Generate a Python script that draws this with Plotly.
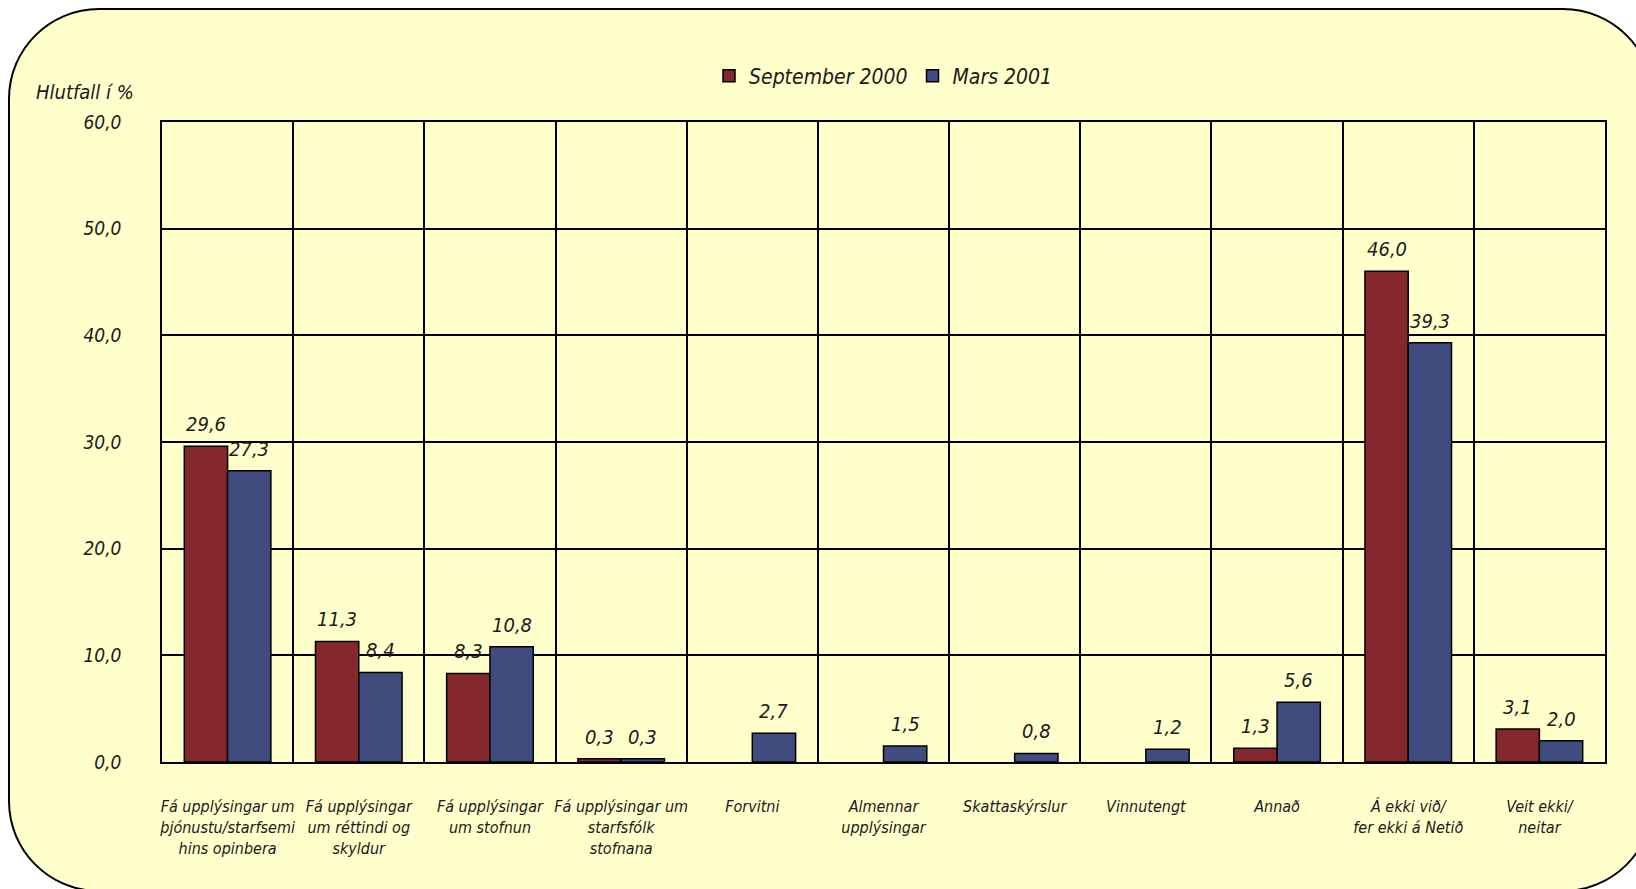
import plotly.graph_objects as go

categories = [
    "Fá upplýsingar um<br>þjónustu/starfsemi<br>hins opinbera",
    "Fá upplýsingar<br>um réttindi og<br>skyldur",
    "Fá upplýsingar<br>um stofnun",
    "Fá upplýsingar um<br>starfsfólk<br>stofnana",
    "Forvitni",
    "Almennar<br>upplýsingar",
    "Skattaskýrslur",
    "Vinnutengt",
    "Annað",
    "Á ekki við/<br>fer ekki á Netið",
    "Veit ekki/<br>neitar",
]
sept_2000 = [29.6, 11.3, 8.3, 0.3, None, None, None, None, 1.3, 46.0, 3.1]
mars_2001 = [27.3, 8.4, 10.8, 0.3, 2.7, 1.5, 0.8, 1.2, 5.6, 39.3, 2.0]
y_ticks = [0, 10, 20, 30, 40, 50, 60]

W, H = 1636, 889
ML, MR, MT, MB = 162, 31, 122, 127
PW, PH = W - ML - MR, H - MT - MB
BARGAP = 0.34

FONT = "DejaVu Sans Condensed, Liberation Sans, sans-serif"
BG = "#FFFFCC"
TXT = "#1a1a1a"


def px(x):
    return (x - ML) / PW


def py(y):
    return 1 - (y - MT) / PH


def fmt(v):
    return f"{v:.1f}".replace(".", ",")


fig = go.Figure()
fig.add_trace(go.Bar(
    name="September 2000", x=categories, y=sept_2000,
    marker=dict(color="#84282E", line=dict(color="black", width=1.5)),
))
fig.add_trace(go.Bar(
    name="Mars 2001", x=categories, y=mars_2001,
    marker=dict(color="#404C7E", line=dict(color="black", width=1.5)),
))

# value labels above each bar (bar half-offset derived from layout)
half_bar = PW / len(categories) * (1 - BARGAP) / 4
for series, sign in ((sept_2000, -1), (mars_2001, 1)):
    for cat, v in zip(categories, series):
        if v is None:
            continue
        fig.add_annotation(x=cat, y=v, xref="x", yref="y", text=fmt(v),
                           showarrow=False, xshift=sign * half_bar, yshift=22,
                           yanchor="middle",
                           font=dict(family=FONT, size=20, color=TXT, style="italic"))

# rounded frame (extends past the right and bottom edges of the page)
x0, y0, x1, y1, r = 9, 9, 1653, 891, 90
k = 0.5523 * r
path = (
    f"M {px(x0 + r)} {py(y0)} L {px(x1 - r)} {py(y0)} "
    f"C {px(x1 - r + k)} {py(y0)} {px(x1)} {py(y0 + r - k)} {px(x1)} {py(y0 + r)} "
    f"L {px(x1)} {py(y1 - r)} "
    f"C {px(x1)} {py(y1 - r + k)} {px(x1 - r + k)} {py(y1)} {px(x1 - r)} {py(y1)} "
    f"L {px(x0 + r)} {py(y1)} "
    f"C {px(x0 + r - k)} {py(y1)} {px(x0)} {py(y1 - r + k)} {px(x0)} {py(y1 - r)} "
    f"L {px(x0)} {py(y0 + r)} "
    f"C {px(x0)} {py(y0 + r - k)} {px(x0 + r - k)} {py(y0)} {px(x0 + r)} {py(y0)} Z"
)
fig.add_shape(type="path", path=path, xref="paper", yref="paper",
              fillcolor=BG, line=dict(color="black", width=2), layer="below")

fig.add_annotation(text="Hlutfall í %", xref="paper", yref="paper",
                   x=px(34), y=py(92), xanchor="left", yanchor="middle",
                   showarrow=False,
                   font=dict(family=FONT, size=20, color=TXT, style="italic"))

fig.update_layout(
    width=W, height=H,
    margin=dict(l=ML, r=MR, t=MT, b=MB, autoexpand=False),
    paper_bgcolor="white",
    plot_bgcolor="rgba(0,0,0,0)",
    barmode="group", bargap=BARGAP, bargroupgap=0,
    separators=", ",
    showlegend=True,
    legend=dict(orientation="h", x=0.5, xanchor="center", y=py(76), yanchor="middle",
                bgcolor="rgba(0,0,0,0)",
                font=dict(family=FONT, size=21, color=TXT, style="italic"),
                itemwidth=30, tracegroupgap=0),
    xaxis=dict(
        type="category", tickson="boundaries", range=[-0.5, len(categories) - 0.5],
        showgrid=True, gridcolor="black", gridwidth=1.5,
        showline=True, linecolor="black", linewidth=1.5, mirror=True,
        ticks="", ticklabelstandoff=29, tickangle=0, automargin=False,
        tickfont=dict(family=FONT, size=16, color=TXT, style="italic"),
    ),
    yaxis=dict(
        range=[0, 60], tickvals=y_ticks, tickformat=".1f",
        showgrid=True, gridcolor="black", gridwidth=1.5,
        showline=True, linecolor="black", linewidth=1.5, mirror=True,
        zeroline=False, ticks="", ticklabelstandoff=35, automargin=False,
        tickfont=dict(family=FONT, size=19, color=TXT, style="italic"),
    ),
)

fig.write_html(
    "out.html",
    config={"displayModeBar": False},
    post_script="document.body.style.margin='0';document.body.style.overflow='hidden';",
)
